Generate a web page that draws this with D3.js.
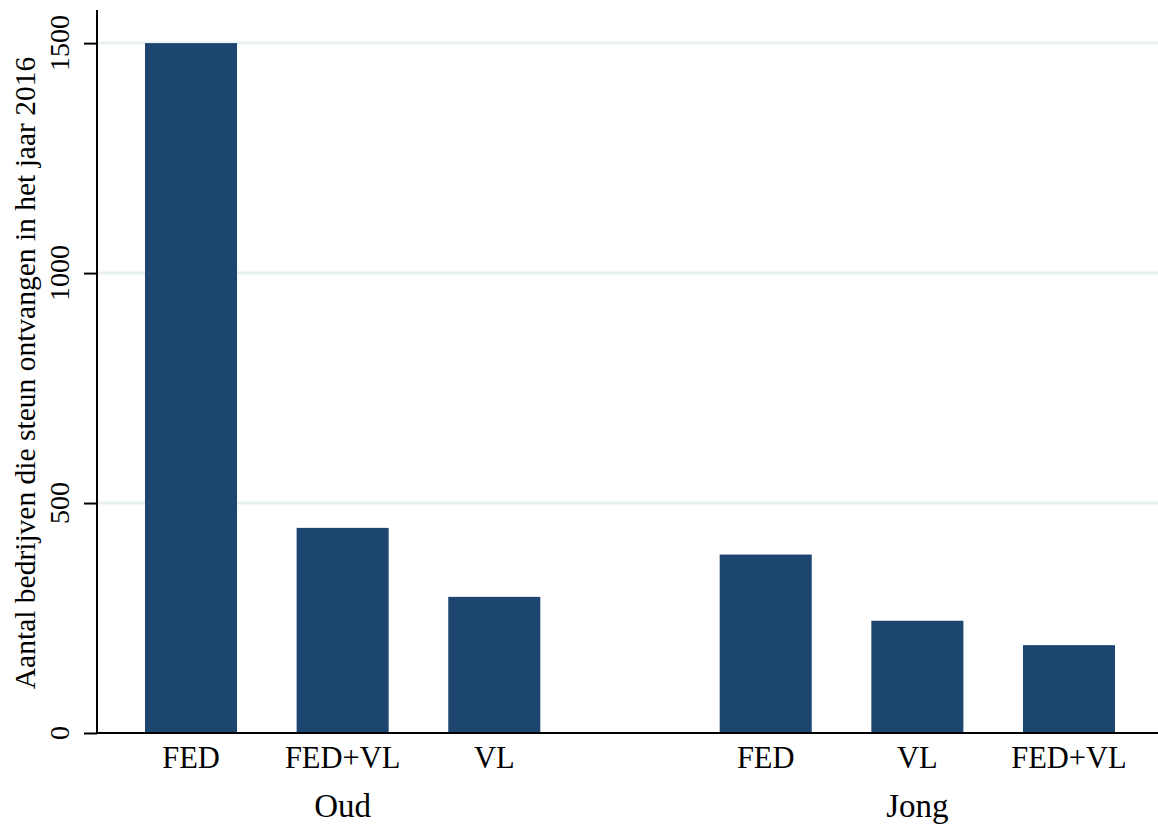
<!DOCTYPE html>
<html>
<head>
<meta charset="utf-8">
<script src="https://cdn.jsdelivr.net/npm/d3@7"></script>
<style>
  html, body { margin: 0; padding: 0; background: #ffffff; }
  svg { display: block; }
</style>
</head>
<body>
<svg id="chart" width="1158" height="829"></svg>
<script>
// Groups and their categories / counts
const groups = ["Oud", "Jong"];
const oudCategories = ["FED", "FED+VL", "VL"];
const oudValues = [1500, 446, 296];
const jongCategories = ["FED", "VL", "FED+VL"];
const jongValues = [388, 244, 191];
const yTicks = [0, 500, 1000, 1500];
const yTitle = "Aantal bedrijven die steun ontvangen in het jaar 2016";

const W = 1158, H = 829;
const plot = { left: 97, top: 10, bottom: 733, right: 1163 };
const barColor = "#1c4670";
const gridColor = "#e9f1f3";
const fontFamily = "'Liberation Serif', 'Times New Roman', Times, 'DejaVu Serif', serif";
const groupGap = 3.79;      // slot offset between group starts
const barWidthSlots = 0.607;
const edgePad = 0.62;

const rows = [];
[oudCategories, jongCategories].forEach((cats, g) => {
  const vals = g === 0 ? oudValues : jongValues;
  cats.forEach((c, i) => rows.push({ group: groups[g], cat: c, value: vals[i], slot: g * groupGap + i }));
});

const x = d3.scaleLinear()
  .domain([-edgePad, groupGap + 2 + edgePad])
  .range([plot.left, plot.right]);
const y = d3.scaleLinear().domain([0, 1572]).range([plot.bottom, plot.top]);
const bw = x(barWidthSlots) - x(0);

const svg = d3.select("#chart");

// gridlines
svg.append("g").selectAll("line")
  .data(yTicks.filter(t => t > 0))
  .join("line")
  .attr("x1", plot.left).attr("x2", W)
  .attr("y1", d => y(d)).attr("y2", d => y(d))
  .attr("stroke", gridColor).attr("stroke-width", 3);

// bars
svg.append("g").selectAll("rect")
  .data(rows)
  .join("rect")
  .attr("x", d => x(d.slot) - bw / 2)
  .attr("width", bw)
  .attr("y", d => y(d.value))
  .attr("height", d => y(0) - y(d.value))
  .attr("fill", barColor);

// y axis
const yAxis = d3.axisLeft(y).tickValues(yTicks).tickSize(13).tickFormat("");
const ag = svg.append("g").attr("transform", `translate(${plot.left},0)`).call(yAxis);
ag.select(".domain").remove();
ag.selectAll(".tick line").attr("stroke", "#000").attr("stroke-width", 2);
svg.append("line")
  .attr("x1", plot.left).attr("x2", plot.left)
  .attr("y1", plot.top).attr("y2", plot.bottom + 1)
  .attr("stroke", "#000").attr("stroke-width", 2);

const labels = svg.append("g")
  .attr("font-family", fontFamily)
  .attr("fill", "#000");

// rotated tick labels
labels.append("g").selectAll("text")
  .data(yTicks)
  .join("text")
  .attr("transform", d => `translate(69,${y(d)}) rotate(-90)`)
  .attr("text-anchor", "middle")
  .attr("font-size", 28)
  .text(d => d);

// x baseline
svg.append("line")
  .attr("x1", plot.left).attr("x2", W)
  .attr("y1", y(0)).attr("y2", y(0))
  .attr("stroke", "#000").attr("stroke-width", 2);

// category labels
labels.append("g").selectAll("text")
  .data(rows)
  .join("text")
  .attr("x", d => x(d.slot)).attr("y", 768)
  .attr("text-anchor", "middle")
  .attr("font-size", 30.5)
  .text(d => d.cat);

// group labels
labels.append("g").selectAll("text")
  .data(groups)
  .join("text")
  .attr("x", (d, g) => x(g * groupGap + 1)).attr("y", 817)
  .attr("text-anchor", "middle")
  .attr("font-size", 33)
  .text(d => d);

// y title
labels.append("text")
  .attr("transform", `translate(35,373) rotate(-90)`)
  .attr("text-anchor", "middle")
  .attr("font-size", 29.5)
  .text(yTitle);
</script>
</body>
</html>
